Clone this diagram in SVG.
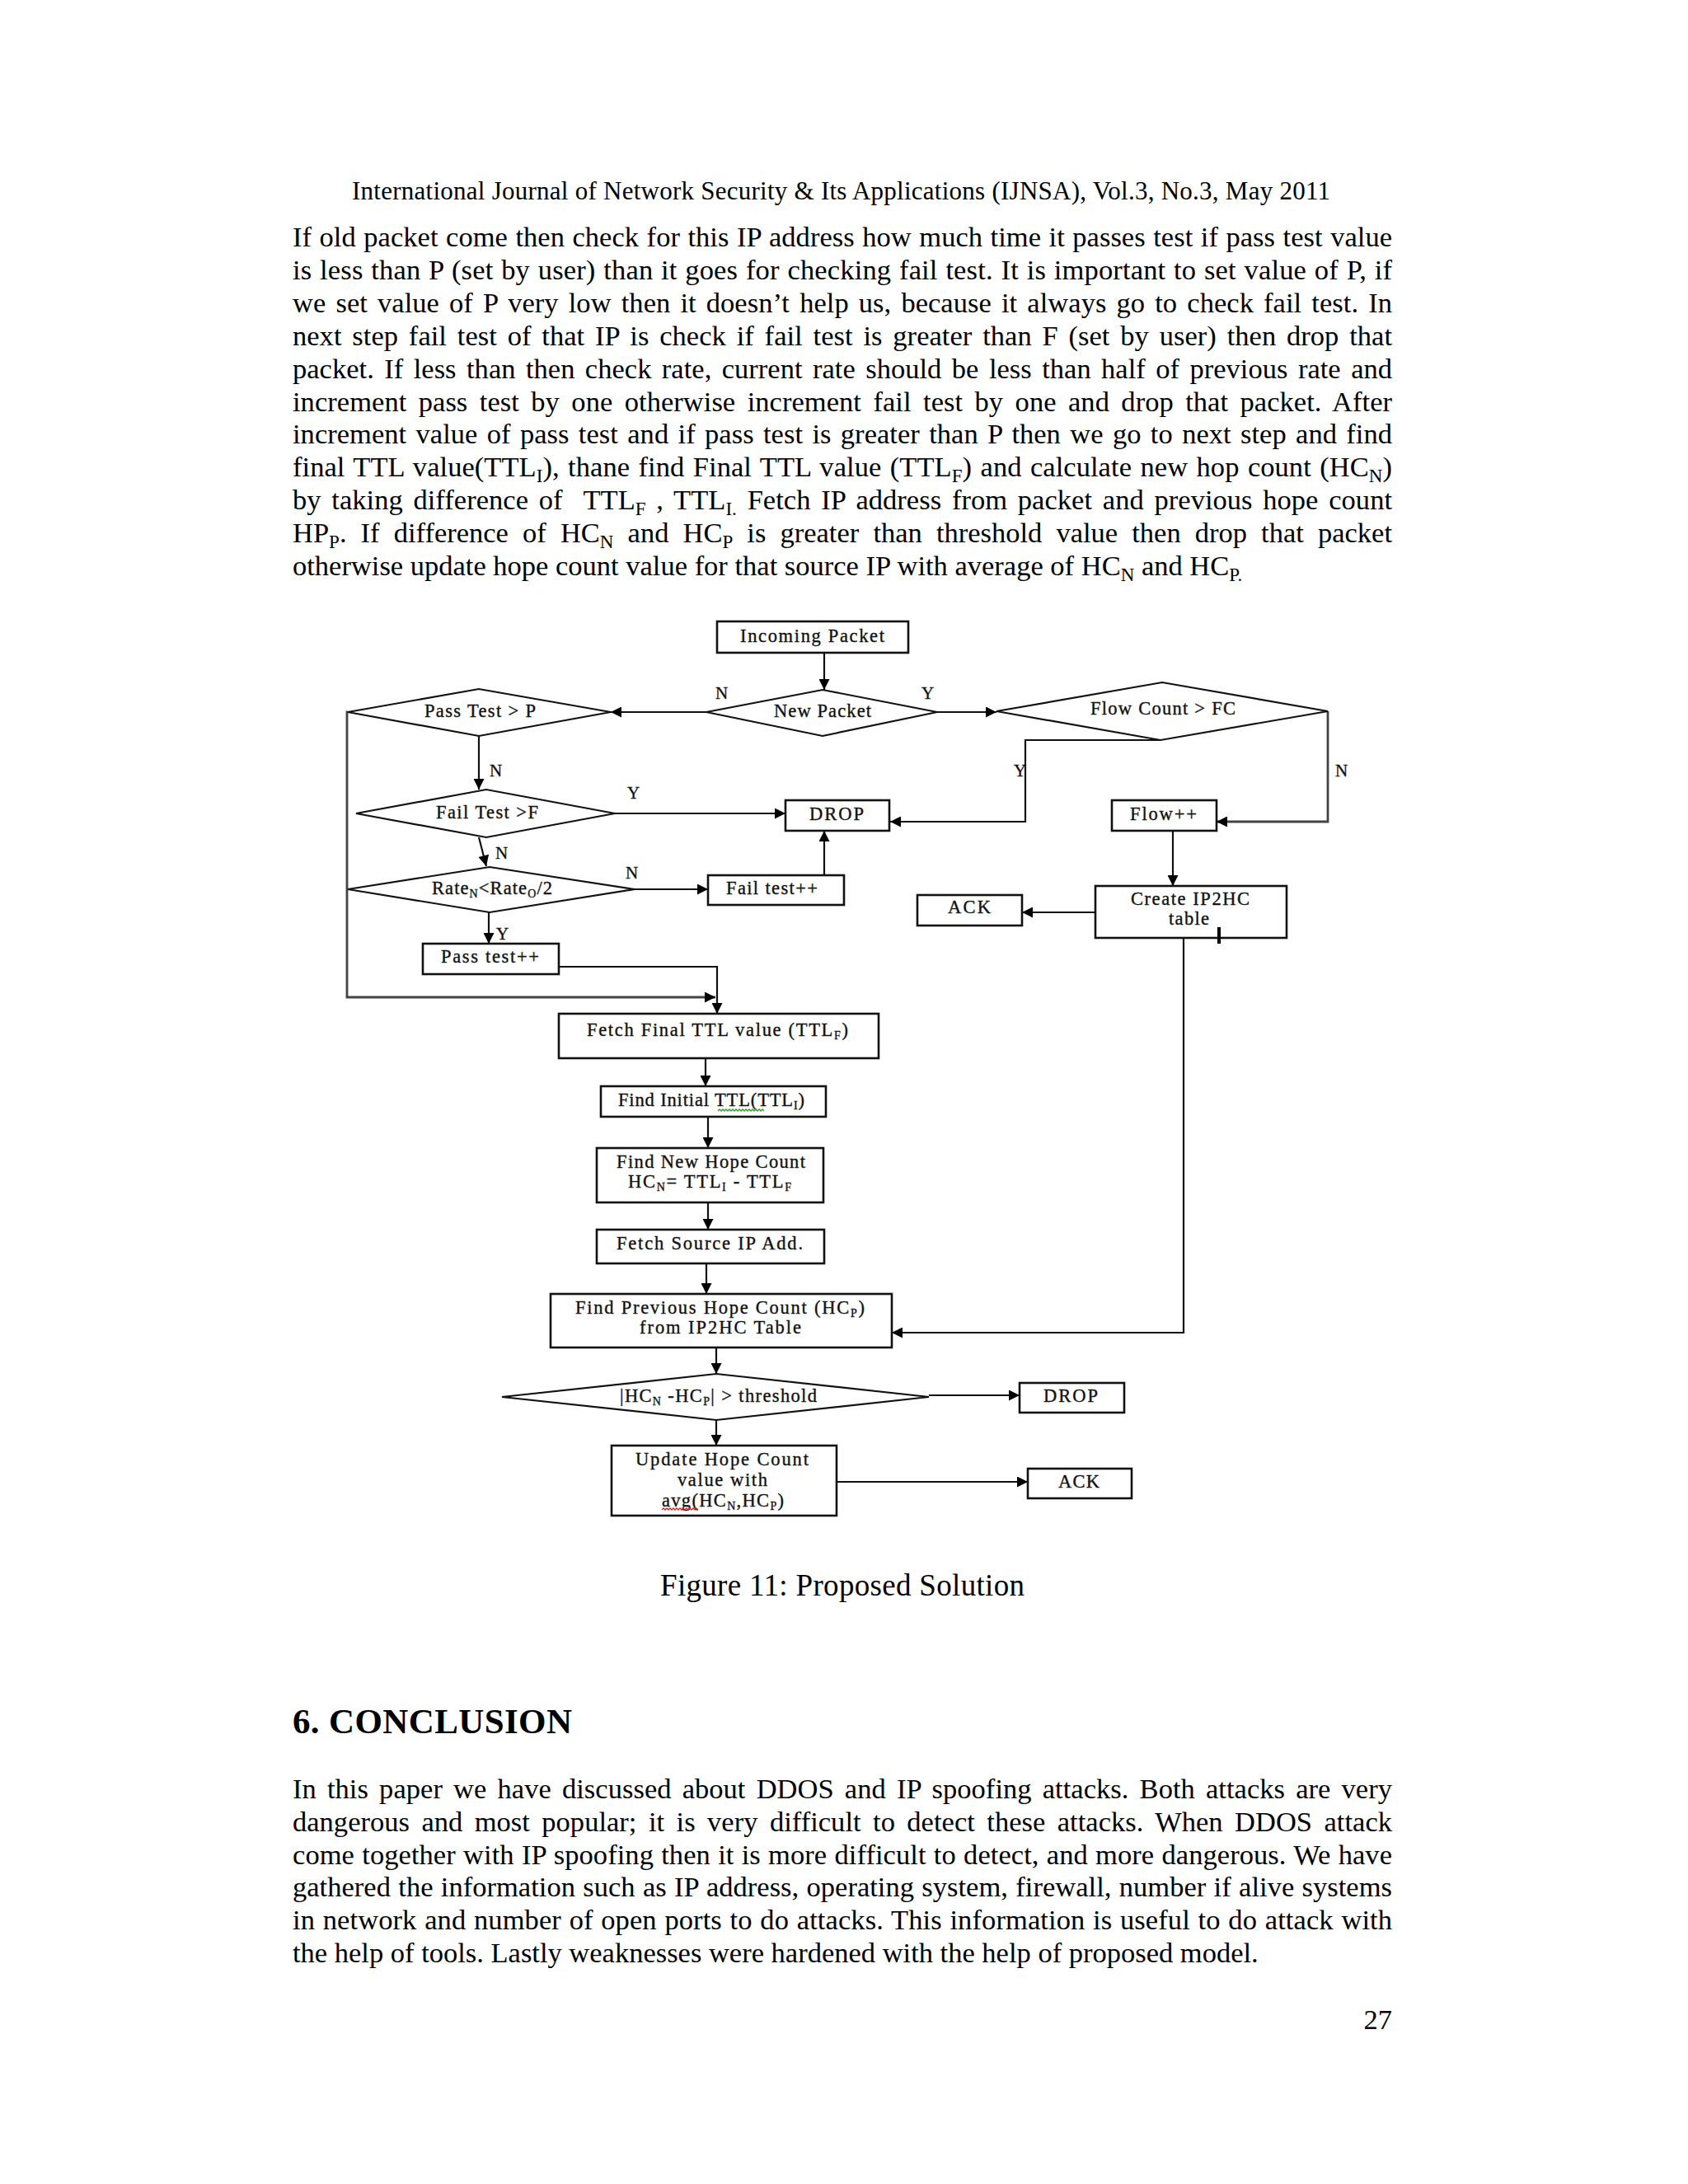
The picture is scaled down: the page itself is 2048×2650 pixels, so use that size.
<svg xmlns="http://www.w3.org/2000/svg" width="2048" height="2650" viewBox="0 0 2048 2650">
<defs>
<style>
.b{font-family:"Liberation Serif","Times New Roman",serif;font-size:34.5px;fill:#000}
.hd{font-family:"Liberation Serif","Times New Roman",serif;font-size:31px;fill:#000}
.cap{font-family:"Liberation Serif","Times New Roman",serif;font-size:37px;fill:#000}
.h1{font-family:"Liberation Serif","Times New Roman",serif;font-size:43px;font-weight:bold;fill:#000}
.s{font-size:23px}
.t{font-family:"Liberation Serif","Times New Roman",serif;font-size:22.5px;fill:#111;stroke:#111;stroke-width:0.35}
.ts{font-size:14px}
.yn{font-family:"Liberation Serif","Times New Roman",serif;font-size:21px;fill:#111;stroke:#111;stroke-width:0.3}
.box{fill:#fff;stroke:#111;stroke-width:2.6}
.dia{fill:#fff;stroke:#111;stroke-width:2.2}
.c{fill:none;stroke:#111;stroke-width:2.2}
.cg{fill:none;stroke:#444;stroke-width:2.8}
</style>
<marker id="ah" viewBox="0 0 10 10" refX="10" refY="5" markerWidth="15" markerHeight="13" markerUnits="userSpaceOnUse" orient="auto"><path d="M0,0 L10,5 L0,10 z" fill="#000"/></marker>
</defs>
<rect width="2048" height="2650" fill="#fff"/>

<g id="page-text">
<text class="hd" x="427" y="242" textLength="1187" lengthAdjust="spacing">International Journal of Network Security &amp; Its Applications (IJNSA), Vol.3, No.3, May 2011</text>
<text class="b" x="355" y="299" word-spacing="0.9" textLength="1334" lengthAdjust="spacing">If old packet come then check for this IP address how much time it passes test if pass test value</text>
<text class="b" x="355" y="338.9" word-spacing="1" textLength="1334" lengthAdjust="spacing">is less than P (set by user) than it goes for checking fail test. It is important to set value of P, if</text>
<text class="b" x="355" y="378.8" word-spacing="3.5" textLength="1334" lengthAdjust="spacing">we set value of P very low then it doesn’t help us, because it always go to check fail test. In</text>
<text class="b" x="355" y="418.7" word-spacing="4.2" textLength="1334" lengthAdjust="spacing">next step fail test of that IP is check if fail test is greater than F (set by user) then drop that</text>
<text class="b" x="355" y="458.6" word-spacing="3.8" textLength="1334" lengthAdjust="spacing">packet. If less than then check rate, current rate should be less than half of previous rate and</text>
<text class="b" x="355" y="498.5" word-spacing="5.8" textLength="1334" lengthAdjust="spacing">increment pass test by one otherwise increment fail test by one and drop that packet. After</text>
<text class="b" x="355" y="538.4" word-spacing="2.75" textLength="1334" lengthAdjust="spacing">increment value of pass test and if pass test is greater than P then we go to next step and find</text>
<text class="b" x="355" y="578.3" word-spacing="1.8" textLength="1334" lengthAdjust="spacing">final TTL value(TTL<tspan class="s" dy="7">I</tspan><tspan dy="-7">), thane find Final TTL value (TTL</tspan><tspan class="s" dy="7">F</tspan><tspan dy="-7">) and calculate new hop count (HC</tspan><tspan class="s" dy="7">N</tspan><tspan dy="-7">)</tspan></text>
<text class="b" x="355" y="618.2" word-spacing="4.1" textLength="1334" lengthAdjust="spacing">by taking difference of&#160; TTL<tspan class="s" dy="7">F</tspan><tspan dy="-7"> , TTL</tspan><tspan class="s" dy="7">I.</tspan><tspan dy="-7"> Fetch IP address from packet and previous hope count</tspan></text>
<text class="b" x="355" y="658.1" word-spacing="8.5" textLength="1334" lengthAdjust="spacing">HP<tspan class="s" dy="7">P</tspan><tspan dy="-7">. If difference of HC</tspan><tspan class="s" dy="7">N</tspan><tspan dy="-7"> and HC</tspan><tspan class="s" dy="7">P</tspan><tspan dy="-7"> is greater than threshold value then drop that packet</tspan></text>
<text class="b" x="355" y="698">otherwise update hope count value for that source IP with average of HC<tspan class="s" dy="7">N</tspan><tspan dy="-7"> and HC</tspan><tspan class="s" dy="7">P.</tspan></text>

<text class="cap" x="801" y="1936" textLength="442" lengthAdjust="spacing">Figure 11: Proposed Solution</text>
<text class="h1" x="355" y="2103" textLength="339" lengthAdjust="spacing">6. CONCLUSION</text>
<text class="b" x="355" y="2182" word-spacing="4.5" textLength="1334" lengthAdjust="spacing">In this paper we have discussed about DDOS and IP spoofing attacks. Both attacks are very</text>
<text class="b" x="355" y="2222" word-spacing="5.8" textLength="1334" lengthAdjust="spacing">dangerous and most popular; it is very difficult to detect these attacks. When DDOS attack</text>
<text class="b" x="355" y="2262" word-spacing="0.55" textLength="1334" lengthAdjust="spacing">come together with IP spoofing then it is more difficult to detect, and more dangerous. We have</text>
<text class="b" x="355" y="2301" word-spacing="0.7" textLength="1334" lengthAdjust="spacing">gathered the information such as IP address, operating system, firewall, number if alive systems</text>
<text class="b" x="355" y="2341" word-spacing="1" textLength="1334" lengthAdjust="spacing">in network and number of open ports to do attacks. This information is useful to do attack with</text>
<text class="b" x="355" y="2381">the help of tools. Lastly weaknesses were hardened with the help of proposed model.</text>
<text class="b" x="1689" y="2462" text-anchor="end">27</text>
</g>

<g id="connectors">
<line class="c" x1="1000" y1="792" x2="1000" y2="837" marker-end="url(#ah)"/>
<line class="c" x1="857" y1="864" x2="741" y2="864" marker-end="url(#ah)"/>
<line class="c" x1="1137" y1="864" x2="1209" y2="864" marker-end="url(#ah)"/>
<line class="c" x1="581" y1="893" x2="581" y2="958" marker-end="url(#ah)"/>
<line class="c" x1="746" y1="987" x2="953" y2="987" marker-end="url(#ah)"/>
<line class="c" x1="581" y1="1016" x2="590" y2="1051" marker-end="url(#ah)"/>
<line class="c" x1="770" y1="1079" x2="859" y2="1079" marker-end="url(#ah)"/>
<line class="c" x1="1000" y1="1062" x2="1000" y2="1008" marker-end="url(#ah)"/>
<line class="c" x1="593" y1="1107" x2="593" y2="1145" marker-end="url(#ah)"/>
<path class="c" d="M678,1173 H870 V1230" marker-end="url(#ah)"/>
<path class="cg" d="M422,864 H421 V1210 H868" marker-end="url(#ah)"/>
<path class="c" d="M1408,898 H1244 V997 H1080" marker-end="url(#ah)"/>
<path class="cg" d="M1611,863 V997 H1476" marker-end="url(#ah)"/>
<line class="c" x1="1423" y1="1008" x2="1423" y2="1075" marker-end="url(#ah)"/>
<line class="c" x1="1329" y1="1107" x2="1240" y2="1107" marker-end="url(#ah)"/>
<path class="c" d="M1436,1138 V1617 H1082" marker-end="url(#ah)"/>
<line class="c" x1="856" y1="1284" x2="856" y2="1318" marker-end="url(#ah)"/>
<line class="c" x1="859" y1="1355" x2="859" y2="1393" marker-end="url(#ah)"/>
<line class="c" x1="859" y1="1459" x2="859" y2="1492" marker-end="url(#ah)"/>
<line class="c" x1="857" y1="1533" x2="857" y2="1570" marker-end="url(#ah)"/>
<line class="c" x1="869" y1="1635" x2="869" y2="1667" marker-end="url(#ah)"/>
<line class="c" x1="1127" y1="1693" x2="1237" y2="1693" marker-end="url(#ah)"/>
<line class="c" x1="869" y1="1723" x2="869" y2="1754" marker-end="url(#ah)"/>
<line class="c" x1="1015" y1="1798" x2="1247" y2="1798" marker-end="url(#ah)"/>
<text class="yn" x="868" y="848">N</text>
<text class="yn" x="1118" y="848">Y</text>
<text class="yn" x="594" y="942">N</text>
<text class="yn" x="761" y="969">Y</text>
<text class="yn" x="601" y="1042">N</text>
<text class="yn" x="759" y="1066">N</text>
<text class="yn" x="602" y="1140">Y</text>
<text class="yn" x="1230" y="942">Y</text>
<text class="yn" x="1620" y="942">N</text>
</g>

<g id="incoming-packet"><rect class="box" x="870" y="754" width="232" height="38"/><text class="t" x="898" y="779" textLength="175" lengthAdjust="spacing">Incoming Packet</text></g>
<g id="new-packet"><polygon class="dia" points="857,864 998,837 1137,864 998,893"/><text class="t" x="939" y="870" textLength="118" lengthAdjust="spacing">New Packet</text></g>
<g id="pass-test-p"><polygon class="dia" points="422,864 581,836 741,864 581,893"/><text class="t" x="515" y="870" textLength="135" lengthAdjust="spacing">Pass Test &gt; P</text></g>
<g id="fail-test-f"><polygon class="dia" points="432,987 590,958 746,987 590,1016"/><text class="t" x="529" y="993" textLength="124" lengthAdjust="spacing">Fail Test &gt;F</text></g>
<g id="rate-check"><polygon class="dia" points="422,1079 594,1052 770,1079 594,1107"/><text class="t" x="524" y="1085" textLength="146" lengthAdjust="spacing">Rate<tspan class="ts" dy="4">N</tspan><tspan dy="-4">&lt;Rate</tspan><tspan class="ts" dy="4">O</tspan><tspan dy="-4">/2</tspan></text></g>
<g id="drop-1"><rect class="box" x="953" y="971" width="126" height="37"/><text class="t" x="982" y="995" textLength="66" lengthAdjust="spacing">DROP</text></g>
<g id="fail-test-inc"><rect class="box" x="859" y="1062" width="165" height="36"/><text class="t" x="881" y="1085" textLength="111" lengthAdjust="spacing">Fail test++</text></g>
<g id="pass-test-inc"><rect class="box" x="513" y="1145" width="165" height="37"/><text class="t" x="535" y="1168" textLength="119" lengthAdjust="spacing">Pass test++</text></g>
<g id="flow-count"><polygon class="dia" points="1209,863 1410,828 1611,863 1408,898"/><text class="t" x="1323" y="867" textLength="176" lengthAdjust="spacing">Flow Count &gt; FC</text></g>
<g id="flow-inc"><rect class="box" x="1349" y="971" width="127" height="37"/><text class="t" x="1371" y="995" textLength="81" lengthAdjust="spacing">Flow++</text></g>
<g id="create-ip2hc"><rect class="box" x="1329" y="1075" width="232" height="63"/><text class="t" x="1372" y="1098" textLength="144" lengthAdjust="spacing">Create IP2HC</text><text class="t" x="1418" y="1122" textLength="49" lengthAdjust="spacing">table</text><line x1="1479" y1="1125" x2="1479" y2="1145" stroke="#000" stroke-width="4"/></g>
<g id="ack-1"><rect class="box" x="1113" y="1086" width="127" height="37"/><text class="t" x="1150" y="1108" textLength="52" lengthAdjust="spacing">ACK</text></g>
<g id="fetch-final-ttl"><rect class="box" x="678" y="1230" width="388" height="54"/><text class="t" x="712" y="1257" textLength="317" lengthAdjust="spacing">Fetch Final TTL value (TTL<tspan class="ts" dy="4">F</tspan><tspan dy="-4">)</tspan></text></g>
<g id="find-initial-ttl"><rect class="box" x="729" y="1318" width="273" height="37"/><text class="t" x="750" y="1342" textLength="226" lengthAdjust="spacing">Find Initial TTL(TTL<tspan class="ts" dy="4">I</tspan><tspan dy="-4">)</tspan></text><path d="M871,1348 l2,-2 l2,2 l2,-2 l2,2 l2,-2 l2,2 l2,-2 l2,2 l2,-2 l2,2 l2,-2 l2,2 l2,-2 l2,2 l2,-2 l2,2 l2,-2 l2,2 l2,-2 l2,2 l2,-2 l2,2 l2,-2 l2,2 l2,-2 l2,2 l2,-2 l2,2" fill="none" stroke="#2a9a2a" stroke-width="1.3"/></g>
<g id="find-new-hop"><rect class="box" x="724" y="1393" width="275" height="66"/><text class="t" x="748" y="1417" textLength="229" lengthAdjust="spacing">Find New Hope Count</text><text class="t" x="762" y="1441" textLength="198" lengthAdjust="spacing">HC<tspan class="ts" dy="4">N</tspan><tspan dy="-4">= TTL</tspan><tspan class="ts" dy="4">I</tspan><tspan dy="-4"> - TTL</tspan><tspan class="ts" dy="4">F</tspan></text></g>
<g id="fetch-source-ip"><rect class="box" x="724" y="1492" width="276" height="41"/><text class="t" x="748" y="1516" textLength="226" lengthAdjust="spacing">Fetch Source IP Add.</text></g>
<g id="find-previous-hop"><rect class="box" x="668" y="1570" width="414" height="65"/><text class="t" x="698" y="1594" textLength="351" lengthAdjust="spacing">Find Previous Hope Count (HC<tspan class="ts" dy="4">P</tspan><tspan dy="-4">)</tspan></text><text class="t" x="776" y="1618" textLength="196" lengthAdjust="spacing">from IP2HC Table</text></g>
<g id="threshold-check"><polygon class="dia" points="609,1695 869,1667 1127,1695 869,1723"/><text class="t" x="752" y="1701" textLength="239" lengthAdjust="spacing">|HC<tspan class="ts" dy="4">N</tspan><tspan dy="-4"> -HC</tspan><tspan class="ts" dy="4">P</tspan><tspan dy="-4">| &gt; threshold</tspan></text></g>
<g id="drop-2"><rect class="box" x="1237" y="1678" width="127" height="36"/><text class="t" x="1266" y="1701" textLength="66" lengthAdjust="spacing">DROP</text></g>
<g id="update-hop"><rect class="box" x="742" y="1754" width="273" height="85"/><text class="t" x="771" y="1778" textLength="210" lengthAdjust="spacing">Update Hope Count</text><text class="t" x="822" y="1803" textLength="109" lengthAdjust="spacing">value with</text><text class="t" x="803" y="1828" textLength="148" lengthAdjust="spacing">avg(HC<tspan class="ts" dy="4">N</tspan><tspan dy="-4">,HC</tspan><tspan class="ts" dy="4">P</tspan><tspan dy="-4">)</tspan></text><path d="M803,1832 l2,-2 l2,2 l2,-2 l2,2 l2,-2 l2,2 l2,-2 l2,2 l2,-2 l2,2 l2,-2 l2,2 l2,-2 l2,2 l2,-2 l2,2 l2,-2 l2,2 l2,-2 l2,2 l2,-2 l2,2" fill="none" stroke="#d42020" stroke-width="1.3"/></g>
<g id="ack-2"><rect class="box" x="1247" y="1782" width="126" height="36"/><text class="t" x="1284" y="1805" textLength="50" lengthAdjust="spacing">ACK</text></g>
</svg>
